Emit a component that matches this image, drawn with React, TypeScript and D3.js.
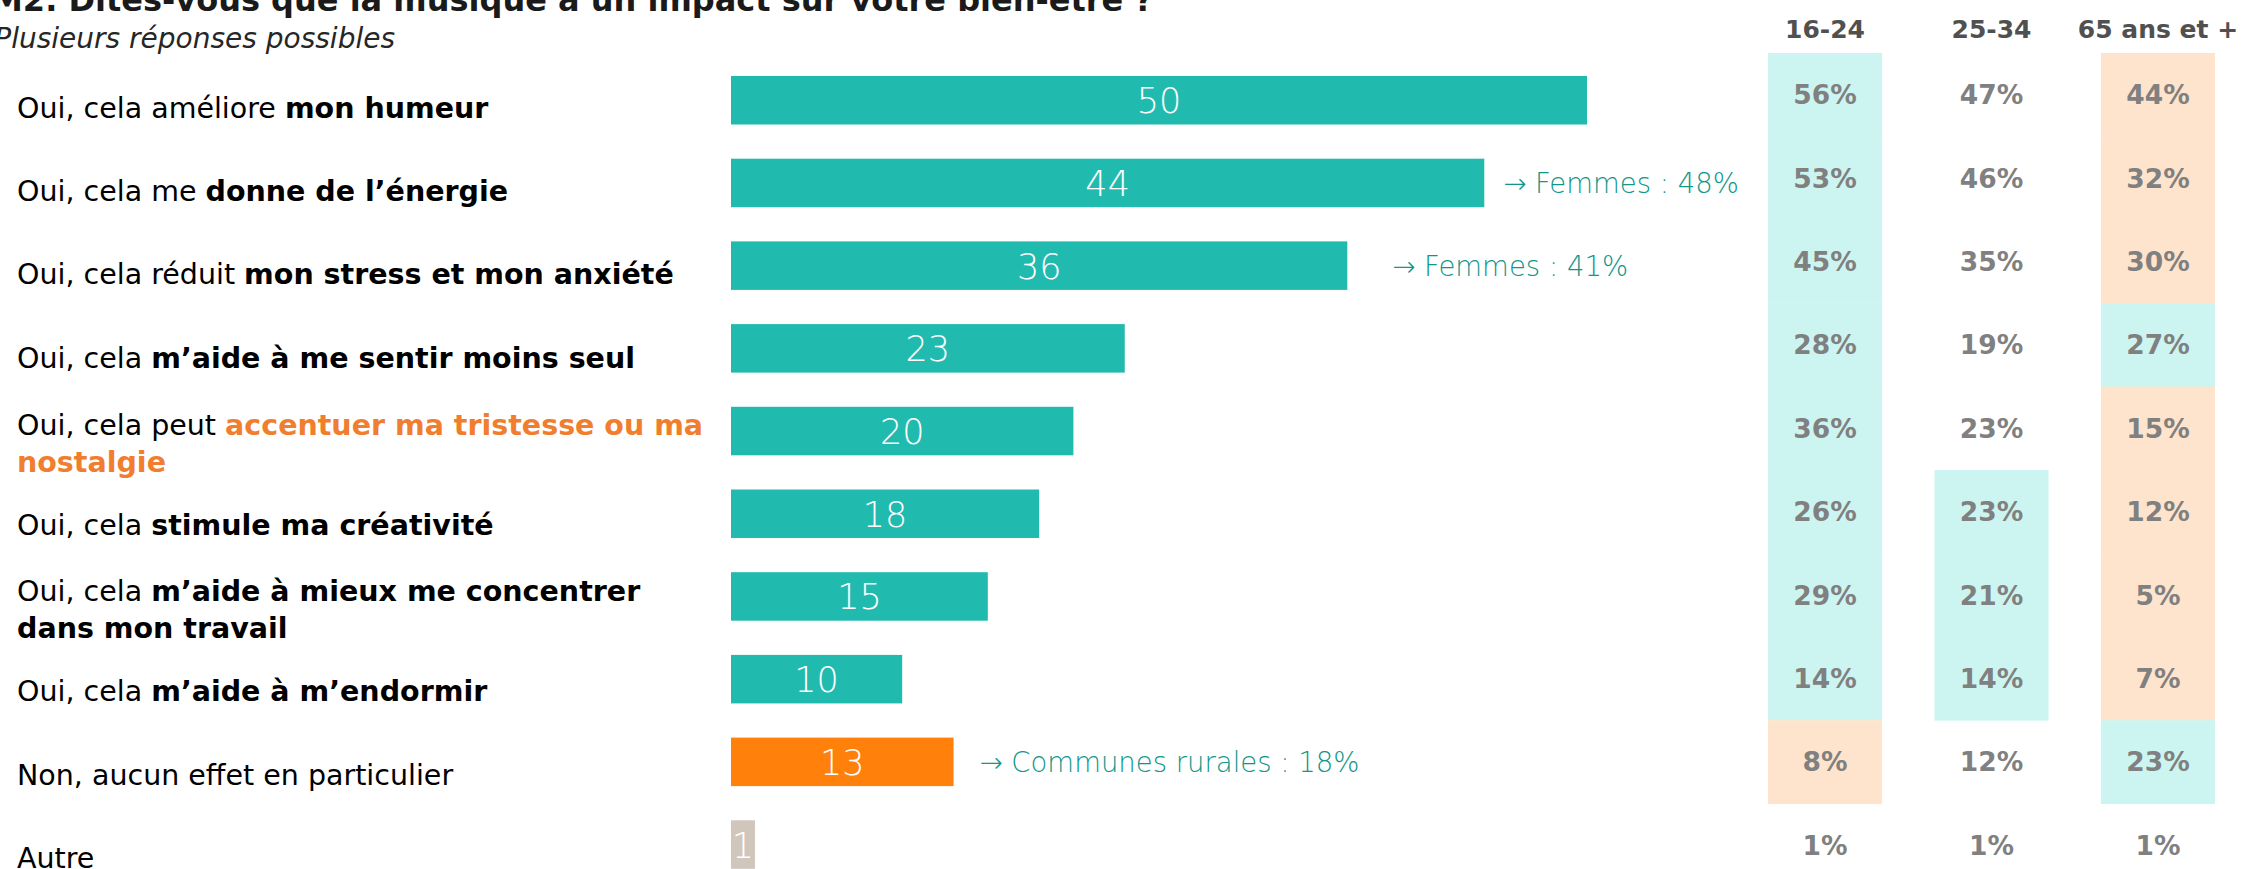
import React from "react";
import * as d3 from "d3";

type Seg = [string, "n" | "b" | "o"];
// category labels: lines of styled segments
const categories: Seg[][][] = [
  [[["Oui, cela améliore ", "n"], ["mon humeur", "b"]]],
  [[["Oui, cela me ", "n"], ["donne de l’énergie", "b"]]],
  [[["Oui, cela réduit ", "n"], ["mon stress et mon anxiété", "b"]]],
  [[["Oui, cela ", "n"], ["m’aide à me sentir moins seul", "b"]]],
  [[["Oui, cela peut ", "n"], ["accentuer ma tristesse ou ma", "o"]], [["nostalgie", "o"]]],
  [[["Oui, cela ", "n"], ["stimule ma créativité", "b"]]],
  [[["Oui, cela ", "n"], ["m’aide à mieux me concentrer", "b"]], [["dans mon travail", "b"]]],
  [[["Oui, cela ", "n"], ["m’aide à m’endormir", "b"]]],
  [[["Non, aucun effet en particulier", "n"]]],
  [[["Autre", "n"]]],
];
const values = [50, 44, 36, 23, 20, 18, 15, 10, 13, 1.4];
const barKinds = ["yes", "yes", "yes", "yes", "yes", "yes", "yes", "yes", "no", "other"];
const annotations = [null, "→ Femmes : 48%", "→ Femmes : 41%", null, null, null, null, null, "→ Communes rurales : 18%", null];

const ageGroups = ["16-24", "25-34", "65 ans et +"];
const pct1624 = [56, 53, 45, 28, 36, 26, 29, 14, 8, 1];
const pct2534 = [47, 46, 35, 19, 23, 23, 21, 14, 12, 1];
const pct65 = [44, 32, 30, 27, 15, 12, 5, 7, 23, 1];
const sig1624 = ["+", "+", "+", "+", "+", "+", "+", "+", "-", ""];
const sig2534 = ["", "", "", "", "", "+", "+", "+", "", ""];
const sig65 = ["-", "-", "-", "+", "-", "-", "-", "-", "+", ""];

const title = "M2. Dites-vous que la musique a un impact sur votre bien-être ?";
const subtitle = "Plusieurs réponses possibles";

// ---- layout / style ----
const W = 2244;
const H = 869;
const FONT = "'DejaVu Sans', sans-serif";
const annotationGap = [0, 19, 45, 0, 0, 0, 0, 0, 26, 0];
const barColors: Record<string, string> = { yes: "#21BAAF", no: "#FF800B", other: "#D0C6BB" };
const sigColors: Record<string, string> = { "+": "#CCF5F1", "-": "#FFE4CD", "": "none" };
const segStyle: Record<string, { weight: number; fill: string }> = {
  n: { weight: 400, fill: "#000" },
  b: { weight: 700, fill: "#000" },
  o: { weight: 700, fill: "#F07E2E" },
};
const fmt = d3.format(".0f");

export default function App() {
  const rows = d3.range(values.length);
  const x = d3.scaleLinear().domain([0, 50]).range([731, 1587]);
  const y = d3.scaleBand<number>().domain(rows).range([53, 53 + 83.4 * rows.length]);
  const yBar = d3.scaleBand<number>().domain(rows).range([76, 76 + 82.7 * rows.length]);
  const col = d3.scaleBand<string>().domain(ageGroups).range([1768, 2215]).paddingInner(0.315);
  const barH = 48.5;

  const tableCols = [
    { key: ageGroups[0], pct: pct1624, sig: sig1624 },
    { key: ageGroups[1], pct: pct2534, sig: sig2534 },
    { key: ageGroups[2], pct: pct65, sig: sig65 },
  ];

  return (
    <svg
      width={W}
      height={H}
      style={{ position: "absolute", left: 0, top: 0, background: "#fff" }}
      fontFamily={FONT}
    >
      <text x={1153} y={11} textAnchor="end" fontSize={32} fontWeight={700} fill="#1a1a1a">
        {title}
      </text>
      <text x={395} y={48} textAnchor="end" fontSize={28} fontStyle="italic" fill="#262626">
        {subtitle}
      </text>

      {/* category labels */}
      {categories.map((lines, i) => {
        const top = y(i)!;
        const ys = lines.length === 1 ? [top + 54.5] : [top + 38, top + 75];
        return lines.map((segs, li) => (
          <text key={`l${i}-${li}`} x={17} y={ys[li]} dominantBaseline="central" fontSize={28.5}>
            {segs.map(([t, s], si) => (
              <tspan key={si} fontWeight={segStyle[s].weight} fill={segStyle[s].fill}>
                {t}
              </tspan>
            ))}
          </text>
        ));
      })}

      {/* bars */}
      {rows.map((i) => {
        const top = yBar(i)!;
        return (
          <g key={`b${i}`}>
            <rect x={x(0)} y={top} width={x(values[i]) - x(0)} height={barH} fill={barColors[barKinds[i]]} />
            <text
              x={(x(0) + x(values[i])) / 2}
              y={top + barH / 2 + 1}
              textAnchor="middle"
              dominantBaseline="central"
              fontSize={35}
              fontWeight={200}
              fill="#fff"
            >
              {fmt(values[i])}
            </text>
            {annotations[i] && (
              <text
                x={x(values[i]) + annotationGap[i]}
                y={top + barH / 2}
                dominantBaseline="central"
                fontSize={27.5}
                fontWeight={200}
                fill="#10968A"
              >
                {annotations[i]}
              </text>
            )}
          </g>
        );
      })}

      {/* table */}
      {tableCols.map((c) => (
        <g key={c.key}>
          <text
            x={col(c.key)! + col.bandwidth() / 2}
            y={29}
            textAnchor="middle"
            dominantBaseline="central"
            fontSize={25}
            fontWeight={700}
            fill="#505050"
          >
            {c.key}
          </text>
          {rows.map((i) => (
            <g key={i}>
              {c.sig[i] && (
                <rect
                  x={col(c.key)!}
                  y={y(i)!}
                  width={col.bandwidth()}
                  height={y.bandwidth() + 0.5}
                  fill={sigColors[c.sig[i]]}
                />
              )}
              <text
                x={col(c.key)! + col.bandwidth() / 2}
                y={y(i)! + y.bandwidth() / 2}
                textAnchor="middle"
                dominantBaseline="central"
                fontSize={26.5}
                fontWeight={700}
                fill="#808080"
              >
                {c.pct[i]}%
              </text>
            </g>
          ))}
        </g>
      ))}
    </svg>
  );
}
